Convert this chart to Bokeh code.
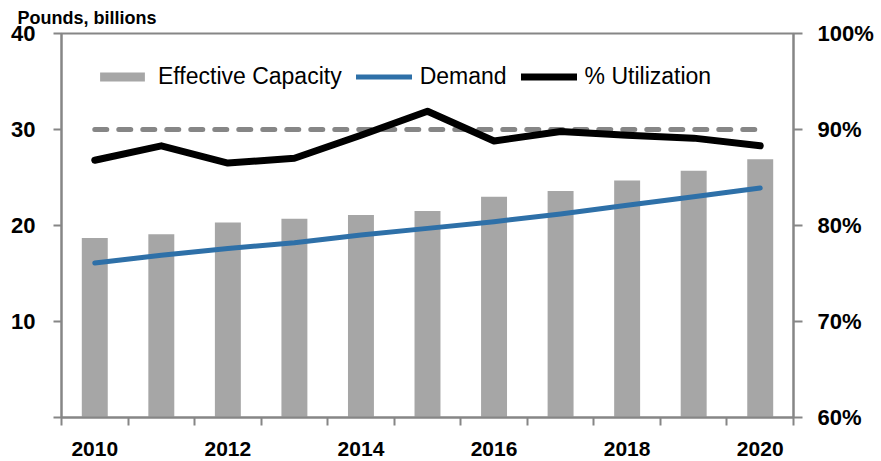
from bokeh.plotting import figure
from bokeh.models import Range1d, LinearAxis, FixedTicker, Legend, LegendItem, ColumnDataSource
from bokeh.embed import file_html
from bokeh.resources import INLINE

# ---- data ----
years = [2010, 2011, 2012, 2013, 2014, 2015, 2016, 2017, 2018, 2019, 2020]
capacity = [18.7, 19.1, 20.3, 20.7, 21.1, 21.5, 23.0, 23.6, 24.7, 25.7, 26.9]
demand = [16.1, 16.9, 17.6, 18.2, 19.0, 19.7, 20.4, 21.2, 22.1, 23.0, 23.9]
utilization = [86.8, 88.3, 86.5, 87.0, 89.4, 91.9, 88.8, 89.8, 89.4, 89.1, 88.3]
target = [90, 90, 90, 90, 90, 90, 90, 90, 90, 90, 90]
left_ticks = [0, 10, 20, 30, 40]
left_labels = ["", "10", "20", "30", "40"]
right_ticks = [60, 70, 80, 90, 100]
right_labels = ["60%", "70%", "80%", "90%", "100%"]
label_years = [2010, 2012, 2014, 2016, 2018, 2020]

FONT = "Liberation Sans"
AXIS_GRAY = "#868686"

xc = [i + 0.5 for i in range(len(years))]
src = ColumnDataSource(dict(x=xc, cap=capacity, dem=demand, util=utilization, tgt=target))

p = figure(frame_width=732, frame_height=384, output_backend="svg", toolbar_location=None,
           x_range=Range1d(0, len(years)), y_range=Range1d(0, 40),
           min_border_left=61, min_border_right=88, min_border_top=33, min_border_bottom=44)
p.extra_y_ranges = {"util": Range1d(60, 100)}
p.grid.visible = False
p.outline_line_color = AXIS_GRAY
p.outline_line_width = 2
p.background_fill_color = "white"
p.border_fill_color = "white"

p.title.text = "Pounds, billions"
p.title.align = "left"
p.title.offset = -44
p.title.standoff = 11
p.title.text_font = FONT
p.title.text_font_style = "bold"
p.title.text_font_size = "18px"
p.title.text_color = "black"

bars = p.vbar(x="x", top="cap", width=0.39, source=src, fill_color="#a6a6a6", line_color=None)
dline = p.line(x="x", y="dem", source=src, line_color="#2e70a8", line_width=5, line_cap="round", line_join="round")
tline = p.line(x="x", y="tgt", source=src, y_range_name="util", line_color="#868686", line_width=5,
               line_dash="12 12", line_cap="round")
uline = p.line(x="x", y="util", source=src, y_range_name="util", line_color="black", line_width=7,
               line_cap="round", line_join="round")

# x axis: boundary ticks as minor ticks, labels at centres
xa = p.xaxis[0]
xpos = [years.index(y) + 0.5 for y in label_years]
xa.ticker = FixedTicker(ticks=xpos, minor_ticks=list(range(len(years) + 1)))
xa.major_label_overrides = {pos: str(y) for pos, y in zip(xpos, label_years)}
xa.major_tick_out = 0
xa.major_tick_in = 0
xa.minor_tick_out = 8
xa.minor_tick_in = 0
xa.minor_tick_line_color = AXIS_GRAY
xa.minor_tick_line_width = 2
xa.axis_line_color = AXIS_GRAY
xa.axis_line_width = 2
xa.major_label_standoff = 16
xa.major_label_text_font = FONT
xa.major_label_text_font_style = "bold"
xa.major_label_text_font_size = "21px"
xa.major_label_text_color = "black"

ya = p.yaxis[0]
ya.ticker = FixedTicker(ticks=left_ticks, minor_ticks=[])
ya.major_label_overrides = {t: l for t, l in zip(left_ticks, left_labels)}
ya.major_tick_out = 8
ya.major_tick_in = 0
ya.major_tick_line_color = AXIS_GRAY
ya.major_tick_line_width = 2
ya.minor_tick_line_color = None
ya.axis_line_color = AXIS_GRAY
ya.axis_line_width = 2
ya.major_label_standoff = 18
ya.major_label_text_font = FONT
ya.major_label_text_font_style = "bold"
ya.major_label_text_font_size = "22px"
ya.major_label_text_color = "black"

ra = LinearAxis(y_range_name="util")
ra.ticker = FixedTicker(ticks=right_ticks, minor_ticks=[])
ra.major_label_overrides = {t: l for t, l in zip(right_ticks, right_labels)}
ra.major_tick_out = 9
ra.major_tick_in = 0
ra.major_tick_line_color = AXIS_GRAY
ra.major_tick_line_width = 2
ra.minor_tick_line_color = None
ra.axis_line_color = AXIS_GRAY
ra.axis_line_width = 2
ra.major_label_standoff = 15
ra.major_label_text_font = FONT
ra.major_label_text_font_style = "bold"
ra.major_label_text_font_size = "22px"
ra.major_label_text_color = "black"
p.add_layout(ra, "right")

legend = Legend(items=[LegendItem(label="Effective Capacity", renderers=[bars]),
                       LegendItem(label="Demand", renderers=[dline]),
                       LegendItem(label="% Utilization", renderers=[uline])],
                orientation="horizontal", location=(33, 327),
                glyph_width=56, glyph_height=11, label_height=20, label_standoff=8, spacing=14,
                padding=0, margin=0, border_line_color=None, background_fill_alpha=0,
                label_text_font=FONT, label_text_font_size="23px", label_text_color="black")
p.add_layout(legend, "center")

open("out.html", "w").write(file_html(p, INLINE))
